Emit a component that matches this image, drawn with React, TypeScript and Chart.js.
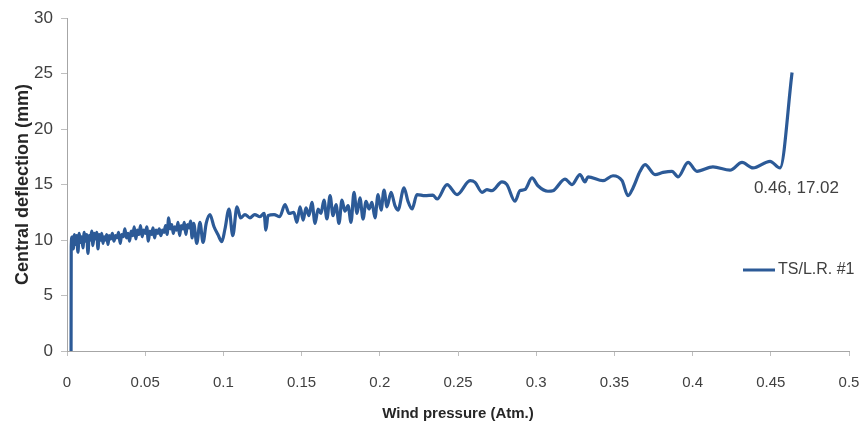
import React, { useEffect, useRef } from "react";
import { Chart, registerables } from "chart.js";

Chart.register(...registerables);

// [wind pressure (Atm.), central deflection (mm)]
const onset: [number, number][] = [
  [0.0026, 0], [0.0027, 9.4],
];

const earlyNoise: [number, number][] = [
  [0.0033, 10.3], [0.004, 9.2], [0.0048, 10.5], [0.0055, 9.6], [0.0062, 10.4], [0.007, 8.9],
  [0.0078, 10.6], [0.0086, 9.8], [0.0094, 10.3], [0.0102, 9.3], [0.011, 10.7], [0.0118, 9.9],
  [0.0126, 10.5], [0.0134, 8.8], [0.0142, 10.4], [0.015, 10.0], [0.0158, 10.8], [0.0166, 9.5],
  [0.0174, 10.6], [0.0182, 10.1], [0.019, 10.7], [0.0198, 9.2], [0.0206, 10.5], [0.0214, 10.0],
  [0.0222, 10.6], [0.023, 9.7], [0.0238, 10.3], [0.0246, 10.0], [0.0254, 10.5], [0.0262, 9.6],
  [0.027, 10.4], [0.028, 10.1], [0.029, 10.6], [0.03, 9.9], [0.031, 10.4], [0.032, 10.2],
  [0.033, 10.7], [0.034, 9.7], [0.035, 10.5],
];

const midNoise: [number, number][] = [
  [0.036, 10.3], [0.037, 11.0], [0.038, 10.2], [0.039, 10.6], [0.04, 9.9], [0.041, 10.8],
  [0.042, 10.4], [0.043, 11.2], [0.044, 10.1], [0.045, 10.9], [0.046, 10.5], [0.047, 11.3],
  [0.048, 10.3], [0.049, 10.9], [0.05, 10.6], [0.051, 11.2], [0.052, 9.9], [0.053, 10.8],
  [0.054, 10.5], [0.055, 11.1], [0.056, 10.2], [0.057, 10.9], [0.058, 10.6], [0.059, 11.0],
  [0.06, 10.4], [0.061, 10.9], [0.062, 10.7], [0.063, 11.3], [0.064, 10.5], [0.065, 12.0],
  [0.066, 11.0], [0.067, 11.4], [0.068, 10.6], [0.069, 11.2], [0.07, 10.9], [0.071, 11.6],
  [0.072, 10.4], [0.073, 11.3], [0.074, 11.0], [0.075, 11.6], [0.076, 10.5], [0.077, 11.4],
  [0.078, 11.1], [0.079, 11.7], [0.08, 10.2], [0.081, 11.5],
];

const swings: [number, number][] = [
  [0.083, 9.7], [0.085, 11.6], [0.087, 9.8], [0.089, 11.5], [0.0914, 12.3], [0.094, 11.2],
  [0.0965, 10.5], [0.099, 9.85], [0.101, 11.0], [0.1036, 12.8], [0.106, 10.4], [0.1087, 13.0],
  [0.111, 12.0], [0.1138, 12.3], [0.117, 12.0], [0.12, 12.3], [0.1234, 12.1], [0.126, 12.4],
  [0.1272, 10.9], [0.1285, 12.2], [0.1324, 12.3], [0.136, 12.1], [0.1394, 13.2], [0.142, 12.4],
  [0.145, 12.5], [0.147, 11.6],
];

const denseBand: [number, number][] = [
  [0.149, 13.0], [0.151, 11.8], [0.1528, 12.9], [0.1547, 12.2], [0.1566, 13.4], [0.1586, 11.5],
  [0.1605, 12.8], [0.1624, 12.4], [0.1643, 13.6], [0.1662, 11.9], [0.1682, 14.0], [0.1701, 12.2],
  [0.172, 13.2], [0.1739, 11.5], [0.1758, 13.6], [0.1777, 12.6], [0.1797, 13.1], [0.1816, 11.6],
  [0.1835, 14.3], [0.1854, 12.4], [0.1873, 13.8], [0.1893, 11.9], [0.1912, 13.5], [0.1931, 12.8],
  [0.195, 13.4], [0.1969, 12.0], [0.1989, 14.1], [0.2008, 12.7],
];

const transition: [number, number][] = [
  [0.2027, 14.5], [0.2046, 13.0], [0.2072, 14.3], [0.2097, 13.1], [0.2116, 12.7], [0.2155, 14.7],
  [0.218, 13.5], [0.2206, 12.8], [0.2238, 14.1], [0.2289, 14.0], [0.234, 14.05], [0.2366, 13.7],
  [0.243, 15.0], [0.2494, 14.1], [0.2577, 15.35],
];

const plateau: [number, number][] = [
  [0.2609, 15.2], [0.2654, 14.3], [0.2685, 14.55], [0.2717, 14.45], [0.2781, 15.25], [0.2813, 15.0],
  [0.2864, 13.5], [0.2896, 14.45], [0.2928, 14.55], [0.2973, 15.6], [0.3011, 14.9], [0.3075, 14.4],
  [0.3107, 14.45], [0.3184, 15.5], [0.3229, 15.0], [0.328, 15.9], [0.3312, 15.25], [0.3331, 15.7],
  [0.3427, 15.35], [0.3491, 15.8], [0.3549, 15.35], [0.3587, 14.0], [0.3619, 14.7], [0.3664, 16.2],
  [0.3696, 16.8], [0.376, 15.9], [0.3811, 16.1], [0.3868, 16.2], [0.3907, 15.7], [0.3971, 17.0],
  [0.4028, 16.2], [0.413, 16.6], [0.4239, 16.3], [0.4316, 17.0], [0.4386, 16.5], [0.4495, 17.1],
  [0.4559, 16.5],
];

const failure: [number, number][] = [
  [0.4636, 25.1],
];

const seriesLabel = "TS/L.R. #1";
const calloutPoint: [number, number] = [0.46, 17.02];
const xAxisTitle = "Wind pressure (Atm.)";
const yAxisTitle = "Central deflection (mm)";

const LINE_COLOR = "#2c5a97";
const TEXT_COLOR = "#404040";
const FONT = "'Liberation Sans', Arial, sans-serif";

const overlayPlugin = {
  id: "overlay",
  afterDatasetsDraw(chart: any) {
    const { ctx } = chart;
    const xs = chart.scales.x;
    const ys = chart.scales.y;
    ctx.save();
    // callout label
    const px = xs.getPixelForValue(calloutPoint[0]);
    const py = ys.getPixelForValue(calloutPoint[1]);
    ctx.fillStyle = TEXT_COLOR;
    ctx.font = `17px ${FONT}`;
    ctx.textAlign = "center";
    ctx.textBaseline = "middle";
    ctx.fillText(`${calloutPoint[0]}, ${calloutPoint[1]}`, px + 10, py + 26);
    // legend
    const ly = 270;
    ctx.strokeStyle = LINE_COLOR;
    ctx.lineWidth = 3;
    ctx.beginPath();
    ctx.moveTo(743, ly);
    ctx.lineTo(775, ly);
    ctx.stroke();
    ctx.font = `16px ${FONT}`;
    ctx.textAlign = "left";
    ctx.fillText(seriesLabel, 778, ly);
    ctx.restore();
  },
};

export default function App() {
  const ref = useRef<HTMLCanvasElement | null>(null);

  useEffect(() => {
    if (!ref.current) return;
    const points = [
      ...onset, ...earlyNoise, ...midNoise, ...swings,
      ...denseBand, ...transition, ...plateau, ...failure,
    ].map(([x, y]) => ({ x, y }));

    const chart = new Chart(ref.current, {
      type: "line",
      data: {
        datasets: [
          {
            label: seriesLabel,
            data: points,
            borderColor: LINE_COLOR,
            backgroundColor: LINE_COLOR,
            borderWidth: 3.2,
            pointRadius: 0,
            cubicInterpolationMode: "monotone",
            fill: false,
          },
        ],
      },
      options: {
        animation: false,
        responsive: false,
        devicePixelRatio: 1,
        layout: { padding: { top: 13, right: 10, left: 0, bottom: 0 } },
        plugins: {
          legend: { display: false },
          tooltip: { enabled: false },
        },
        scales: {
          x: {
            type: "linear",
            min: 0,
            max: 0.5,
            afterFit: (s: any) => { s.height = 76; s.paddingRight = 0; s.paddingLeft = 0; },
            ticks: {
              stepSize: 0.05,
              autoSkip: false,
              maxRotation: 0,
              color: TEXT_COLOR,
              font: { family: FONT, size: 15 },
              padding: 18,
              callback: (v: any) => String(parseFloat(Number(v).toFixed(2))),
            },
            grid: { drawOnChartArea: false, drawTicks: true, tickLength: 5, color: "#bfbfbf" },
            border: { display: true, color: "#a6a6a6", width: 1 },
            title: {
              display: true,
              text: xAxisTitle,
              color: "#262626",
              font: { family: FONT, size: 15, weight: "bold" },
              padding: { top: 4, bottom: 4 },
            },
          },
          y: {
            min: 0,
            max: 30,
            afterFit: (s: any) => { s.width = 67; },
            ticks: {
              stepSize: 5,
              color: TEXT_COLOR,
              font: { family: FONT, size: 17 },
              padding: 8,
            },
            grid: { drawOnChartArea: false, drawTicks: true, tickLength: 6, color: "#bfbfbf" },
            border: { display: true, color: "#a6a6a6", width: 1 },
            title: {
              display: true,
              text: yAxisTitle,
              color: "#262626",
              font: { family: FONT, size: 18, weight: "bold" },
              padding: { top: 12, bottom: 0 },
            },
          },
        },
      },
      plugins: [overlayPlugin],
    } as any);
    return () => chart.destroy();
  }, []);

  return (
    <div style={{ position: "absolute", left: 0, top: 0, width: 859, height: 427, background: "#fff" }}>
      <canvas ref={ref} width={859} height={427} />
    </div>
  );
}
